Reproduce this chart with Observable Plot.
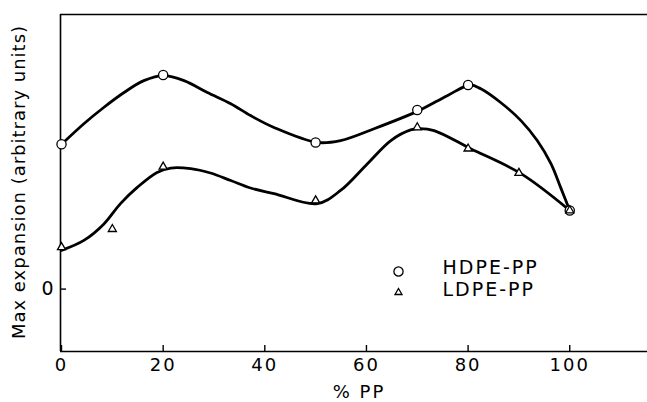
<!DOCTYPE html>
<html><head><meta charset="utf-8">
<script src="https://cdn.jsdelivr.net/npm/d3@7"></script>
<script src="https://cdn.jsdelivr.net/npm/@observablehq/plot@0.6"></script>
<style>
body{margin:0;background:#fff}
svg{display:block}
</style>
</head><body><div id="chart"></div>
<script>
// Axis ticks
const xTicks = [0, 20, 40, 60, 80, 100];
const yTicks = [0];
const xDomain = [-0.2, 115.3];
const yDomain = [-1, 4.4];

// Measured points
const hdpeX = [0, 20, 50, 70, 80, 100];
const hdpeY = [2.32, 3.43, 2.35, 2.87, 3.27, 1.26];
const ldpeX = [0, 10, 20, 50, 70, 80, 90, 100];
const ldpeY = [0.67, 0.96, 1.96, 1.42, 2.59, 2.25, 1.86, 1.26];

// Hand-drawn smooth curves
const hdpeFitX = [0, 4.4, 8.3, 12.3, 16.2, 20.1, 24.1, 28.7, 33.3, 37.2, 41.8, 50.3, 54.9, 61.5, 70.3, 75.9, 80.4, 82.5, 86.4, 90.4, 93.6, 96.3, 98.2, 100];
const hdpeFitY = [2.32, 2.65, 2.91, 3.15, 3.34, 3.42, 3.34, 3.15, 2.97, 2.78, 2.59, 2.35, 2.38, 2.57, 2.86, 3.10, 3.27, 3.21, 2.99, 2.70, 2.38, 2.01, 1.63, 1.26];
const ldpeFitX = [0, 4.4, 8.3, 11.6, 14.9, 18.8, 21.5, 25.4, 29.3, 33.3, 37.2, 41.8, 50.3, 54.9, 60.2, 64.8, 68.7, 70.5, 73.3, 80.5, 90.4, 100];
const ldpeFitY = [0.62, 0.78, 1.04, 1.37, 1.63, 1.87, 1.94, 1.93, 1.86, 1.74, 1.62, 1.53, 1.37, 1.58, 2.01, 2.38, 2.55, 2.57, 2.54, 2.25, 1.85, 1.26];

const legendLabels = ["HDPE-PP", "LDPE-PP"];
const legendSymbols = ["circle", "triangle"];
const axisTitleX = "% PP";
const axisTitleY = "Max expansion (arbitrary units)";

const zip = (xs, ys) => xs.map((x, i) => ({x, y: ys[i]}));
const hdpe = zip(hdpeX, hdpeY);
const ldpe = zip(ldpeX, ldpeY);
const hdpeFit = zip(hdpeFitX, hdpeFitY);
const ldpeFit = zip(ldpeFitX, ldpeFitY);

const W = 647, H = 402, mT = 14, mB = 51, mL = 60, mR = 0;
const innerH = H - mT - mB, innerW = W - mL - mR;
const tickPx = 6;
const tickLenY = (yDomain[1] - yDomain[0]) * tickPx / innerH;
const tickLenX = (xDomain[1] - xDomain[0]) * tickPx / innerW;
const font = "DejaVu Sans, sans-serif";

const chart = Plot.plot({
  width: W, height: H,
  marginTop: mT, marginBottom: mB, marginLeft: mL, marginRight: mR,
  style: {fontFamily: font, fontSize: "18px", color: "#000", background: "#fff", letterSpacing: "2px"},
  x: {domain: xDomain, axis: null},
  y: {domain: yDomain, axis: null},
  marks: [
    // frame lines: left, top, bottom
    Plot.ruleX([xDomain[0]], {stroke: "#000", strokeWidth: 1.6}),
    Plot.ruleY([yDomain[1]], {stroke: "#000", strokeWidth: 1.6}),
    Plot.ruleY([yDomain[0]], {stroke: "#000", strokeWidth: 1.6}),
    // inward ticks
    Plot.ruleX(xTicks, {x: d => d, y1: yDomain[0], y2: yDomain[0] + tickLenY, stroke: "#000", strokeWidth: 1.4}),
    Plot.ruleY(yTicks, {y: d => d, x1: xDomain[0], x2: xDomain[0] + tickLenX, stroke: "#000", strokeWidth: 1.4}),
    // tick labels
    Plot.text(xTicks, {x: d => d, frameAnchor: "bottom", lineAnchor: "middle", dy: 14, text: d => String(d), fontSize: 18, fill: "#000"}),
    Plot.text(yTicks, {y: d => d, frameAnchor: "left", textAnchor: "middle", lineAnchor: "middle", dx: -12, text: d => String(d), fontSize: 19, fill: "#000"}),
    // curves
    Plot.line(hdpeFit, {x: "x", y: "y", curve: "catmull-rom", stroke: "#000", strokeWidth: 2.8}),
    Plot.line(ldpeFit, {x: "x", y: "y", curve: "catmull-rom", stroke: "#000", strokeWidth: 2.8}),
    // points
    Plot.dot(hdpe, {x: "x", y: "y", r: 4.6, symbol: "circle", fill: "#fff", stroke: "#000", strokeWidth: 1.3}),
    Plot.dot(ldpe, {x: "x", y: "y", r: 3, symbol: "triangle", fill: "#fff", stroke: "#000", strokeWidth: 1.3}),
    // legend
    Plot.dot([legendSymbols[0]], {frameAnchor: "top-left", dx: 338, dy: 257, r: 4.6, symbol: d => d, fill: "#fff", stroke: "#000", strokeWidth: 1.3}),
    Plot.dot([legendSymbols[1]], {frameAnchor: "top-left", dx: 338, dy: 278, r: 2.6, symbol: d => d, fill: "#fff", stroke: "#000", strokeWidth: 1.3}),
    Plot.text([legendLabels[0]], {frameAnchor: "top-left", dx: 382, dy: 253.5, text: d => d, textAnchor: "start", lineAnchor: "middle", fontSize: 19, fill: "#000"}),
    Plot.text([legendLabels[1]], {frameAnchor: "top-left", dx: 382, dy: 275, text: d => d, textAnchor: "start", lineAnchor: "middle", fontSize: 19, fill: "#000"}),
    // axis titles
    Plot.text([axisTitleX], {frameAnchor: "bottom", dx: 5, dy: 41, text: d => d, textAnchor: "middle", lineAnchor: "middle", fontSize: 18, fill: "#000"}),
    Plot.text([axisTitleY], {frameAnchor: "left", dx: -41, dy: -1, rotate: -90, text: d => d, textAnchor: "middle", lineAnchor: "middle", fontSize: 18, fill: "#000"})
  ]
});
chart.querySelectorAll("text").forEach(t => {
  if (t.textContent === axisTitleY) t.style.letterSpacing = "1px";
});
document.getElementById("chart").appendChild(chart);
</script>
</body></html>
